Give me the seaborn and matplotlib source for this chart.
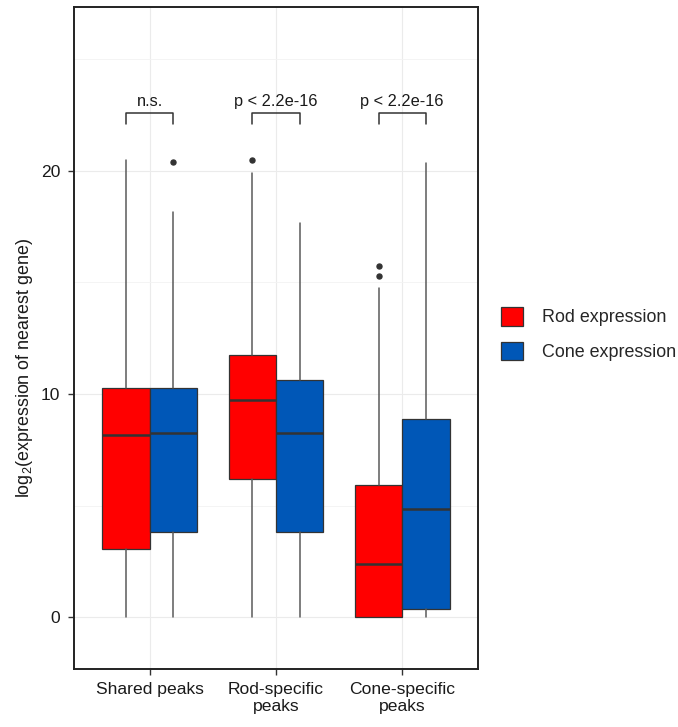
import matplotlib
matplotlib.use("Agg")
import matplotlib.pyplot as plt
from matplotlib.patches import Patch
import seaborn as sns

# Peak groups and expression series
groups = ["Shared peaks", "Rod-specific\npeaks", "Cone-specific\npeaks"]
series = ["Rod expression", "Cone expression"]
series_colors = ["#FF0000", "#0057B7"]

# Box summaries per group, ordered as (rod, cone)
whisker_low = [[0.0, 0.0], [0.0, 0.0], [0.0, 0.0]]
q1 = [[3.03, 3.81], [6.17, 3.81], [0.0, 0.37]]
median = [[8.18, 8.24], [9.75, 8.24], [2.39, 4.84]]
q3 = [[10.26, 10.26], [11.75, 10.63], [5.92, 8.88]]
whisker_high = [[20.5, 18.16], [19.9, 17.65], [14.74, 20.37]]
outliers = [[[], [20.39]], [[20.49], []], [[15.31, 15.74], []]]

# Pairwise test labels per group
test_labels = ["n.s.", "p < 2.2e-16", "p < 2.2e-16"]

sns.set_theme(style="whitegrid")
plt.rcParams["font.family"] = ["Liberation Sans", "DejaVu Sans"]
plt.rcParams["mathtext.fontset"] = "custom"
plt.rcParams["mathtext.rm"] = "Liberation Sans"
plt.rcParams["mathtext.default"] = "regular"

fig = plt.figure(figsize=(6.78, 7.27), dpi=100)
ax = fig.add_axes([74 / 678, 58 / 727, 404 / 678, 662 / 727])
ax.set_facecolor("white")

dodge = 0.1875
box_w = 0.375
for gi in range(len(groups)):
    for si in range(len(series)):
        stats = [dict(
            whislo=whisker_low[gi][si], q1=q1[gi][si], med=median[gi][si],
            q3=q3[gi][si], whishi=whisker_high[gi][si],
            fliers=outliers[gi][si],
        )]
        pos = gi + (-dodge if si == 0 else dodge)
        ax.bxp(
            stats, positions=[pos], widths=box_w, patch_artist=True,
            showcaps=False, manage_ticks=False,
            boxprops=dict(facecolor=series_colors[si], edgecolor="#333333",
                          linewidth=0.9),
            medianprops=dict(color="#333333", linewidth=1.8),
            whiskerprops=dict(color="#5a5a5a", linewidth=1.1),
            flierprops=dict(marker="o", markerfacecolor="#333333",
                            markeredgecolor="#333333", markersize=3.6),
            zorder=3,
        )

# Significance brackets
bar_y, drop = 22.6, 0.5
for gi, lab in enumerate(test_labels):
    xl, xr = gi - dodge, gi + dodge
    ax.plot([xl, xl, xr, xr], [bar_y - drop, bar_y, bar_y, bar_y - drop],
            color="#333333", linewidth=1.1, zorder=4)
    ax.text(gi, 22.9, lab, ha="center", va="baseline", fontsize=11.8,
            color="#1a1a1a")

ax.set_xlim(-0.6, 2.6)
ax.set_ylim(-2.33, 27.35)
ax.set_xticks(range(len(groups)))
ax.set_xticklabels(groups)
ax.set_yticks([0, 10, 20])
ax.set_yticks([5, 15, 25], minor=True)

ax.grid(True, which="major", color="#EBEBEB", linewidth=0.8)
ax.grid(True, which="minor", color="#F3F3F3", linewidth=0.6)
ax.set_axisbelow(True)

for side in ["left", "right", "top", "bottom"]:
    ax.spines[side].set_visible(True)
    ax.spines[side].set_color("#222222")
    ax.spines[side].set_linewidth(1.4)

ax.tick_params(axis="both", which="major", length=4.3, width=1.0,
               color="#333333", labelsize=12.6, labelcolor="#1a1a1a",
               left=True, bottom=True)
ax.tick_params(axis="y", pad=5.5)
ax.tick_params(axis="x", pad=5.0)
ax.tick_params(axis="both", which="minor", length=0)

ax.set_xlabel("")
ax.set_ylabel("log$_2$(expression of nearest gene)", fontsize=12.9,
              color="#1a1a1a")
ax.yaxis.set_label_coords((35 - 74) / 404, (669 - 368) / 662)

handles = [Patch(facecolor=c, edgecolor="#333333", linewidth=0.9)
           for c in series_colors]
fig.legend(handles, series, loc="upper left",
           bbox_to_anchor=(501 / 678, (727 - 307) / 727),
           frameon=False, fontsize=12.9, handlelength=1.23,
           handleheight=1.23, handletextpad=1.05, labelspacing=0.85,
           borderpad=0, borderaxespad=0)

fig.savefig("out.png", dpi=100, facecolor="white")
